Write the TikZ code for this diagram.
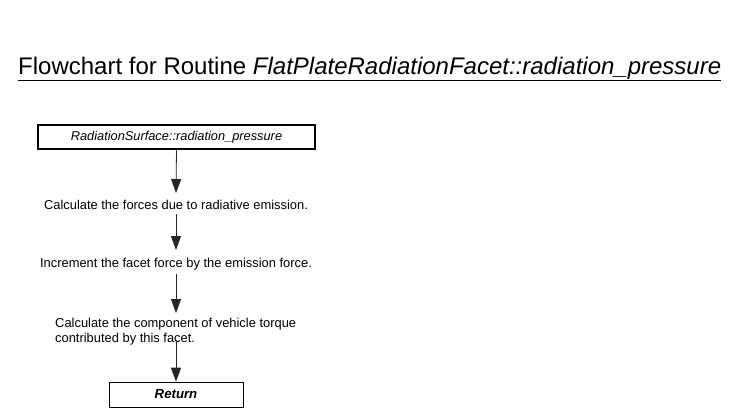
\documentclass[tikz,border=0pt]{standalone}
\usepackage{fontspec}
\setmainfont{Liberation Sans}
\usetikzlibrary{arrows.meta}
\begin{document}
\begin{tikzpicture}[x=1pt,y=-1pt,
  flow/.style={-{Triangle[length=14pt,width=10pt]}, line width=0.8pt, draw=black!85},
  txt/.style={font=\fontsize{12.9}{15}\selectfont, inner sep=0pt},
  boxnode/.style={draw, minimum height=24pt, inner sep=0pt}]
\useasboundingbox (0,0) rectangle (731,413);
\node[anchor=base west, inner sep=0pt, font=\fontsize{24}{28}\selectfont] (title) at (18,74)
  {\underline{Flowchart for Routine \textit{FlatPlateRadiationFacet::radiation\_pressure}}};
\node[boxnode, line width=1.6pt, minimum width=277pt, font=\fontsize{12.8}{14}\selectfont\itshape] (start) at (176.5,137) {RadiationSurface::radiation\_pressure};
\node[txt] (s1) at (176,204.5) {Calculate the forces due to radiative emission.};
\node[txt] (s2) at (176,264.5) {Increment the facet force by the emission force.};
\node[txt, align=left, anchor=north west] (s3) at (55,318) {Calculate the component of vehicle torque\\contributed by this facet.};
\node[boxnode, line width=0.6pt, minimum width=134pt, minimum height=25pt, font=\fontsize{13.2}{14}\selectfont\bfseries\itshape] (ret) at (176,394.5) {\raisebox{-1.5pt}{Return}};
\coordinate (a1) at (176,214);
\coordinate (a2) at (176,274);
\coordinate (a3) at (176,340);
\draw[flow] (start.south) -- (176,193);
\draw[flow] (a1) -- (176,250);
\draw[flow] (a2) -- (176,313);
\draw[flow] (a3) -- (ret.north);
\end{tikzpicture}
\end{document}
